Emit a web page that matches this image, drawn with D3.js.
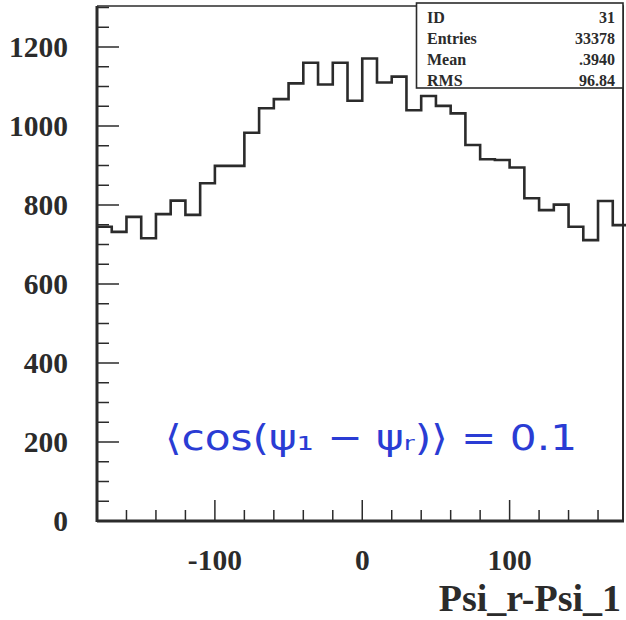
<!DOCTYPE html>
<html>
<head>
<meta charset="utf-8">
<script src="https://cdn.jsdelivr.net/npm/d3@7"></script>
<style>
  html, body { margin: 0; padding: 0; background: #fff; }
  svg { display: block; }
</style>
</head>
<body>
<svg id="chart" width="626" height="620"></svg>
<script>
// ---- data ----
const binEdgesStart = -180;
const binWidth = 10;
const counts = [
  745, 732, 770, 716, 777, 811, 775, 855, 899, 899,
  983, 1045, 1068, 1108, 1160, 1105, 1160, 1064,
  1171, 1110, 1125, 1040, 1076, 1051, 1032, 952, 916, 914,
  895, 817, 787, 801, 745, 711, 810, 749
];
const yTickLabels = [0, 200, 400, 600, 800, 1000, 1200];
const xTickLabels = [-100, 0, 100];
const statLabels = ["ID", "Entries", "Mean", "RMS"];
const statValues = ["31", "33378", ".3940", "96.84"];
const xTitle = "Psi_r-Psi_1";
const annotation = "\u27E8cos(\u03C8\u2081 \u2212 \u03C8\u1D63)\u27E9 = 0.1";

// ---- layout ----
const svg = d3.select("#chart");
const pLeft = 97, pTop = 6, pBottom = 521;
const x = d3.scaleLinear().domain([-180, 180]).range([pLeft, 627.5]);
const y = d3.scaleLinear().domain([0, 1200]).range([pBottom, 47]);

const ink = "#2b2b2b";
const serif = "'Liberation Serif', 'Times New Roman', serif";

// ---- ticks ----
const yMinor = d3.range(0, 1301, 50).filter(v => v % 200 !== 0);
const gy = svg.append("g");
gy.selectAll("line.minor").data(yMinor).join("line")
  .attr("class", "minor")
  .attr("x1", pLeft).attr("x2", pLeft + 12)
  .attr("y1", d => y(d)).attr("y2", d => y(d))
  .attr("stroke", ink).attr("stroke-width", 1.5);
gy.selectAll("line.major").data(yTickLabels).join("line")
  .attr("class", "major")
  .attr("x1", pLeft).attr("x2", pLeft + 22)
  .attr("y1", d => y(d)).attr("y2", d => y(d))
  .attr("stroke", ink).attr("stroke-width", 1.5);
gy.selectAll("text").data(yTickLabels).join("text")
  .attr("x", 68).attr("y", d => y(d) + 9.5)
  .attr("text-anchor", "end")
  .attr("font-family", serif).attr("font-weight", "bold")
  .attr("font-size", 29.5).attr("fill", ink)
  .text(d => d);

const xMinor = d3.range(-160, 180, 20).filter(v => v % 100 !== 0);
const gx = svg.append("g");
gx.selectAll("line.minor").data(xMinor).join("line")
  .attr("class", "minor")
  .attr("x1", d => x(d)).attr("x2", d => x(d))
  .attr("y1", pBottom).attr("y2", pBottom - 11)
  .attr("stroke", ink).attr("stroke-width", 1.5);
gx.selectAll("line.major").data(xTickLabels).join("line")
  .attr("class", "major")
  .attr("x1", d => x(d)).attr("x2", d => x(d))
  .attr("y1", pBottom).attr("y2", pBottom - 21)
  .attr("stroke", ink).attr("stroke-width", 1.5);
gx.selectAll("text").data(xTickLabels).join("text")
  .attr("x", d => x(d)).attr("y", 570)
  .attr("text-anchor", "middle")
  .attr("font-family", serif).attr("font-weight", "bold")
  .attr("font-size", 29.5).attr("fill", ink)
  .text(d => d);

// ---- histogram ----
const pts = [];
counts.forEach((c, i) => {
  const x0 = binEdgesStart + i * binWidth;
  pts.push([x0, c]);
  pts.push([x0 + binWidth, c]);
});
svg.append("path")
  .attr("d", d3.line().x(d => x(d[0])).y(d => y(d[1]))(pts))
  .attr("fill", "none").attr("stroke", ink).attr("stroke-width", 2.6);

// ---- frame ----
svg.append("line").attr("x1", pLeft).attr("x2", 624).attr("y1", pTop).attr("y2", pTop)
  .attr("stroke", ink).attr("stroke-width", 1.5);
svg.append("line").attr("x1", 623).attr("x2", 623).attr("y1", pTop).attr("y2", pBottom)
  .attr("stroke", ink).attr("stroke-width", 2);
svg.append("line").attr("x1", pLeft).attr("x2", pLeft).attr("y1", pTop).attr("y2", pBottom + 1)
  .attr("stroke", ink).attr("stroke-width", 3);
svg.append("line").attr("x1", pLeft).attr("x2", 624).attr("y1", pBottom).attr("y2", pBottom)
  .attr("stroke", ink).attr("stroke-width", 3);

// ---- stats box ----
const box = svg.append("g");
box.append("rect").attr("x", 416.5).attr("y", 3).attr("width", 206.5).attr("height", 85)
  .attr("fill", "#fff").attr("stroke", ink).attr("stroke-width", 1.6);
const rowY = [23, 44, 65, 86];
box.selectAll("text.lab").data(statLabels).join("text")
  .attr("class", "lab")
  .attr("x", 427).attr("y", (d, i) => rowY[i])
  .attr("font-family", serif).attr("font-weight", "bold")
  .attr("font-size", 16).attr("fill", ink)
  .text(d => d);
box.selectAll("text.val").data(statValues).join("text")
  .attr("class", "val")
  .attr("x", 615).attr("y", (d, i) => rowY[i])
  .attr("text-anchor", "end")
  .attr("font-family", serif).attr("font-weight", "bold")
  .attr("font-size", 16).attr("fill", ink)
  .text(d => d);

// ---- axis title ----
svg.append("text")
  .attr("x", 621).attr("y", 611)
  .attr("text-anchor", "end")
  .attr("font-family", serif).attr("font-weight", "bold")
  .attr("font-size", 38).attr("fill", ink)
  .text(xTitle);

// ---- handwritten annotation ----
svg.append("text")
  .attr("x", 165).attr("y", 450)
  .attr("textLength", 412).attr("lengthAdjust", "spacingAndGlyphs")
  .attr("font-family", "'DejaVu Sans', sans-serif")
  .attr("font-size", 36).attr("fill", "#2a3cd4")
  .text(annotation);
</script>
</body>
</html>
